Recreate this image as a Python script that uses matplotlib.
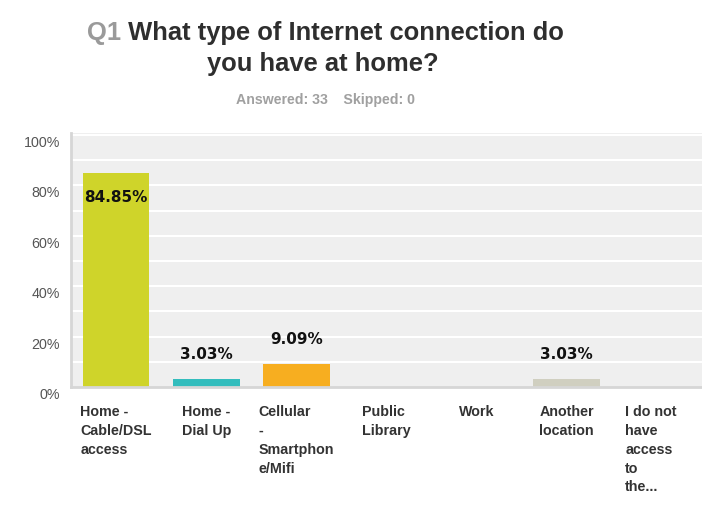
import matplotlib
matplotlib.use("Agg")
import matplotlib.pyplot as plt
import matplotlib.transforms as mtransforms

# Survey results for Q1
categories = [
    "Home -\nCable/DSL\naccess",
    "Home -\nDial Up",
    "Cellular\n-\nSmartphon\ne/Mifi",
    "Public\nLibrary",
    "Work",
    "Another\nlocation",
    "I do not\nhave\naccess\nto\nthe...",
]
percentages = [84.85, 3.03, 9.09, 0.0, 0.0, 3.03, 0.0]
bar_colors = ["#CFD42A", "#33BDBD", "#F7AE20", "#8FB3D9", "#B5AAD6", "#D0CFC0", "#E38A78"]
y_ticks = [0, 20, 40, 60, 80, 100]
y_tick_labels = ["0%", "20%", "40%", "60%", "80%", "100%"]
question_no = "Q1"
question_line1 = "What type of Internet connection do"
question_line2 = "you have at home?"
answered, skipped = 33, 0

W, H, DPI = 702, 510, 100
fig = plt.figure(figsize=(W / DPI, H / DPI), dpi=DPI)
fig.patch.set_facecolor("white")

plot_left, plot_right, plot_top, plot_bottom = 71, 702, 134, 388
ax = fig.add_axes([plot_left / W, 1 - plot_bottom / H,
                   (plot_right - plot_left) / W, (plot_bottom - plot_top) / H])
ax.set_facecolor("#EFEFEF")
ax.set_xlim(-0.5, len(categories) - 0.5)
ax.set_ylim(0, 100.8)

# white horizontal grid every 10%
for g in range(10, 101, 10):
    ax.axhline(g, color="white", lw=1.5, zorder=1)

x = list(range(len(categories)))
ax.bar(x, percentages, width=0.74, color=bar_colors, zorder=2)

for spine in ("top", "right"):
    ax.spines[spine].set_visible(False)
for spine in ("left", "bottom"):
    ax.spines[spine].set_color("#D6D6D6")
    ax.spines[spine].set_linewidth(2)
    ax.spines[spine].set_zorder(3)

ax.set_yticks(y_ticks)
ax.set_yticklabels(y_tick_labels, fontfamily="Liberation Sans", fontsize=10.3, color="#555555")
ax.tick_params(axis="y", length=0, pad=8)
shift = mtransforms.ScaledTranslation(0, -5.5 / DPI, fig.dpi_scale_trans)
for lbl in ax.get_yticklabels():
    lbl.set_transform(lbl.get_transform() + shift)

ax.set_xticks(x)
ax.set_xticklabels(categories, fontfamily="Liberation Sans", fontsize=10.3,
                   fontweight="bold", color="#333333", linespacing=1.45,
                   multialignment="left")
ax.tick_params(axis="x", length=0, pad=12)
# keep the last label clear of the right edge
last = ax.get_xticklabels()[-1]
last.set_transform(last.get_transform() +
                   mtransforms.ScaledTranslation(-6 / DPI, 0, fig.dpi_scale_trans))

# value labels: inside tall bars, above short ones
for xi, v in zip(x, percentages):
    if v <= 0:
        continue
    offset = -23 if v > 50 else 26
    ax.annotate(f"{v:.2f}%", (xi, v), xytext=(0, offset), textcoords="offset pixels",
                ha="center", va="center", fontfamily="DejaVu Sans",
                fontsize=11, fontweight="bold", color="#111111", zorder=4)

# title
title_kw = dict(fontfamily="Liberation Sans", fontsize=18.4, fontweight="bold")
q = fig.text(87 / W, 1 - 40 / H, question_no, color="#9A9A9A", ha="left",
             va="baseline", **title_kw)
fig.canvas.draw()
q_box = q.get_window_extent()
fig.text(q_box.x1 / W, 1 - 40 / H, " " + question_line1, color="#2E2E2E",
         ha="left", va="baseline", **title_kw)
fig.text(323 / W, 1 - 71 / H, question_line2, color="#2E2E2E", ha="center",
         va="baseline", **title_kw)

fig.text(325 / W, 1 - 104.5 / H, f"Answered: {answered}    Skipped: {skipped}",
         color="#A0A0A0", ha="center", va="baseline", fontfamily="Liberation Sans",
         fontsize=10.2, fontweight="bold")

fig.savefig("out.png", dpi=DPI, facecolor="white")
